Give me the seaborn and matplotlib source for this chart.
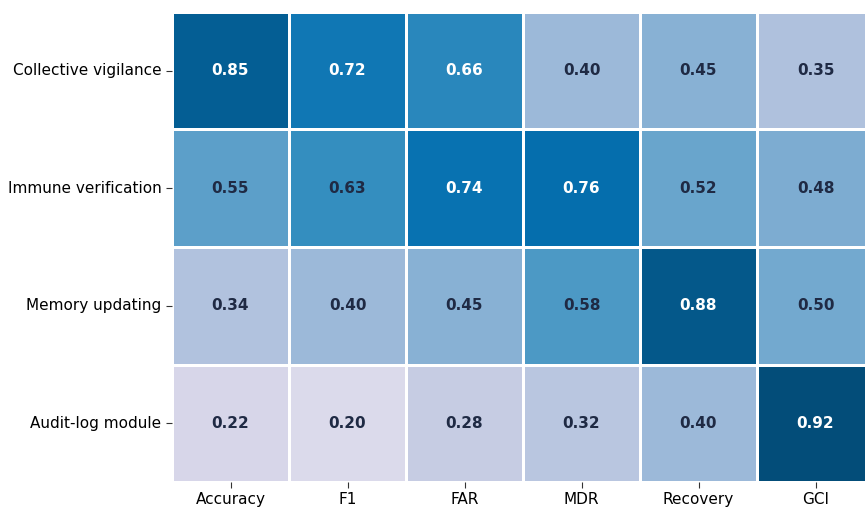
import matplotlib
matplotlib.use("Agg")
import matplotlib.pyplot as plt
import seaborn as sns
import numpy as np
import pandas as pd

modules = ["Collective vigilance", "Immune verification", "Memory updating", "Audit-log module"]
metrics = ["Accuracy", "F1", "FAR", "MDR", "Recovery", "GCI"]
collective_vigilance = [0.85, 0.72, 0.66, 0.40, 0.45, 0.35]
immune_verification = [0.55, 0.63, 0.74, 0.76, 0.52, 0.48]
memory_updating = [0.34, 0.40, 0.45, 0.58, 0.88, 0.50]
audit_log_module = [0.22, 0.20, 0.28, 0.32, 0.40, 0.92]

scores = pd.DataFrame(
    [collective_vigilance, immune_verification, memory_updating, audit_log_module],
    index=modules, columns=metrics,
)

fig = plt.figure(figsize=(8.65, 5.09), dpi=100)
ax = fig.add_axes([172 / 865, 27 / 509, 702 / 865, 470 / 509])

sns.heatmap(
    scores, ax=ax, cmap="PuBu", vmin=0.0, vmax=1.0, cbar=False,
    linewidths=2, linecolor="white", annot=False,
)

# value labels: light text on dark cells, dark text on light cells
for i, row in enumerate(scores.values):
    for j, v in enumerate(row):
        color = "white" if v >= 0.65 else "#1f2a44"
        ax.text(j + 0.5, i + 0.5, f"{v:.2f}", ha="center", va="center",
                fontsize=11, fontweight="bold", color=color)

ax.tick_params(axis="both", labelsize=11, length=4, color="#333333")
ax.set_xticklabels(metrics, rotation=0)
ax.set_yticklabels(modules, rotation=0)
ax.set_xlabel("")
ax.set_ylabel("")

fig.savefig("out.png", dpi=100)
